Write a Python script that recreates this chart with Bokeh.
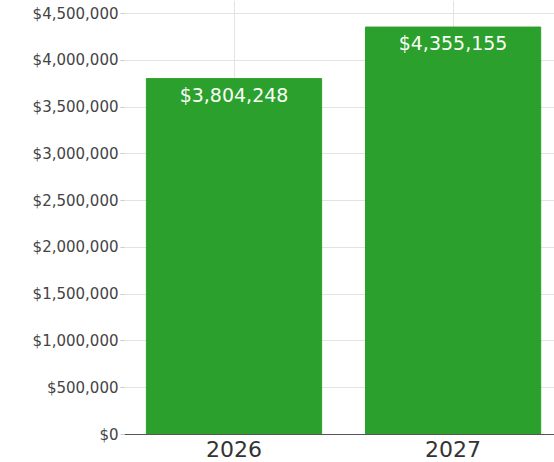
import numpy as np
from bokeh.plotting import figure
from bokeh.models import ColumnDataSource, Range1d, FixedTicker, NumeralTickFormatter, LabelSet
from bokeh.core.properties import value
from bokeh.embed import file_html
from bokeh.resources import INLINE

years = ["2026", "2027"]
values = [3804248, 4355155]
labels = ["$3,804,248", "$4,355,155"]

FONT = "DejaVu Sans"

xpos = np.arange(len(years)) + 0.5
src = ColumnDataSource(dict(x=xpos, top=values, label=labels))

p = figure(width=554, height=462, output_backend="svg", toolbar_location=None,
           x_range=Range1d(0, 1.963), y_range=Range1d(0, 4639000),
           min_border_left=124, min_border_right=0, min_border_top=0, min_border_bottom=28)
p.outline_line_color = None
p.background_fill_color = "white"

p.vbar(x="x", top="top", width=0.8, source=src, color="#2ca02c")

lbl = LabelSet(x="x", y="top", text="label", source=src, text_align="center",
               text_baseline="middle", y_offset=-16, text_color="#f8fff8",
               text_font_size="19px", text_font=value(FONT))
p.add_layout(lbl)

p.xaxis.ticker = FixedTicker(ticks=list(xpos))
p.xaxis.major_label_overrides = {float(x): y for x, y in zip(xpos, years)}
p.xaxis.major_label_text_font_size = "22px"
p.xaxis.major_label_text_font = FONT
p.xaxis.major_label_text_color = "#333333"
p.xaxis.major_tick_line_color = None
p.xaxis.minor_tick_line_color = None
p.xaxis.axis_line_color = "#555555"
p.xaxis.major_label_standoff = 0

p.yaxis.ticker = FixedTicker(ticks=list(range(0, 4500001, 500000)))
p.yaxis.formatter = NumeralTickFormatter(format="$0,0")
p.yaxis.major_label_text_font_size = "15px"
p.yaxis.major_label_text_font = FONT
p.yaxis.major_label_text_color = "#444444"
p.yaxis.axis_line_color = None
p.yaxis.major_tick_line_color = "#cccccc"
p.yaxis.major_tick_out = 4
p.yaxis.major_tick_in = 0
p.yaxis.minor_tick_line_color = None
p.yaxis.major_label_standoff = 2

p.xgrid.grid_line_color = "#e3e3e3"
p.ygrid.grid_line_color = "#e3e3e3"

open("out.html", "w").write(file_html(p, INLINE))
